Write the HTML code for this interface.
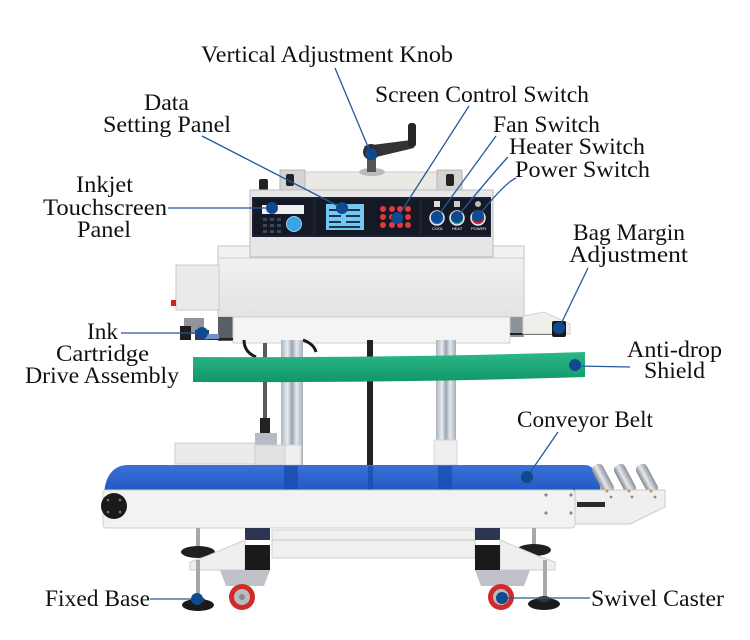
<!DOCTYPE html>
<html>
<head>
<meta charset="utf-8">
<style>
  html,body{margin:0;padding:0;background:#fff;}
  svg{display:block;}
  .lb{font-family:"Liberation Serif",serif;font-size:23px;fill:#111;}
  .tiny{font-family:"Liberation Sans",sans-serif;font-size:4px;fill:#fff;}
</style>
</head>
<body>
<svg width="750" height="640" viewBox="0 0 750 640" xmlns="http://www.w3.org/2000/svg">
<defs>
  <linearGradient id="green" x1="0" y1="0" x2="0" y2="1">
    <stop offset="0" stop-color="#2cb886"/>
    <stop offset="1" stop-color="#10966a"/>
  </linearGradient>
  <linearGradient id="blue" x1="0" y1="0" x2="0" y2="1">
    <stop offset="0" stop-color="#3a72d8"/>
    <stop offset="1" stop-color="#1f55c0"/>
  </linearGradient>
  <linearGradient id="body" x1="0" y1="0" x2="0" y2="1">
    <stop offset="0" stop-color="#f3f3f3"/>
    <stop offset="1" stop-color="#e3e3e3"/>
  </linearGradient>
  <linearGradient id="alu" x1="0" y1="0" x2="1" y2="0">
    <stop offset="0" stop-color="#aab3bd"/>
    <stop offset="0.3" stop-color="#e8edf2"/>
    <stop offset="0.5" stop-color="#9aa4ae"/>
    <stop offset="0.7" stop-color="#e4e9ee"/>
    <stop offset="1" stop-color="#a5aeb8"/>
  </linearGradient>
  <linearGradient id="roll" x1="0" y1="0" x2="1" y2="0">
    <stop offset="0" stop-color="#7d848b"/>
    <stop offset="0.45" stop-color="#e6e9ec"/>
    <stop offset="1" stop-color="#8a9097"/>
  </linearGradient>
</defs>

<rect width="750" height="640" fill="#fff"/>

<!-- ===== TOP ASSEMBLY ===== -->
<rect x="280" y="172" width="182" height="20" fill="#ebe9e3" stroke="#c9c9c9" stroke-width="1"/>
<rect x="280" y="170" width="25" height="22" fill="#d4d4d4" stroke="#aaa" stroke-width="0.8"/>
<rect x="286" y="174" width="8" height="12" rx="2" fill="#222"/>
<rect x="437" y="170" width="25" height="22" fill="#d4d4d4" stroke="#aaa" stroke-width="0.8"/>
<rect x="446" y="174" width="8" height="12" rx="2" fill="#222"/>
<!-- crank -->
<ellipse cx="372" cy="172" rx="13" ry="4" fill="#b9bbbd"/>
<rect x="367" y="156" width="9" height="16" fill="#555"/>
<polygon points="364,146 411,140 414,148 372,158" fill="#333"/>
<rect x="408" y="123" width="8" height="24" rx="3" fill="#262626"/>
<circle cx="371" cy="152" r="8" fill="#2e2e2e"/>
<!-- small knob -->
<rect x="259" y="179" width="9" height="11" rx="2" fill="#222"/>

<!-- ===== HEATER BODY ===== -->
<rect x="218" y="246" width="306" height="71" fill="url(#body)" stroke="#c6c6c6"/>
<line x1="218" y1="258" x2="524" y2="258" stroke="#d0d0d0"/>
<!-- left box -->
<rect x="176" y="265" width="43" height="45" fill="#ebebeb" stroke="#c8c8c8"/>
<rect x="171" y="300" width="5" height="6" fill="#d62020"/>
<!-- lower body -->
<rect x="218" y="317" width="15" height="24" fill="#5a5f66"/>
<rect x="510" y="317" width="14" height="20" fill="#8d939a"/>
<rect x="233" y="317" width="277" height="26" fill="#f4f4f4" stroke="#cfcfcf"/>
<line x1="205" y1="339" x2="233" y2="339" stroke="#222" stroke-width="2"/>
<line x1="510" y1="334" x2="560" y2="334" stroke="#222" stroke-width="2"/>
<!-- left cartridge assembly -->
<rect x="184" y="318" width="20" height="16" fill="#8e959e"/>
<rect x="180" y="326" width="11" height="14" fill="#1e1e1e"/>
<rect x="195" y="330" width="14" height="10" fill="#3a3f46"/>
<rect x="205" y="334" width="14" height="5" fill="#6c93c4"/>
<!-- right bag margin -->
<polygon points="523,316 544,312 570,324 570,334 523,334" fill="#f1efea" stroke="#d2d2d2"/>
<rect x="552" y="321" width="14" height="16" rx="2" fill="#1b1b1b"/>

<!-- ===== CONTROL BOX ===== -->
<rect x="250" y="190" width="243" height="67" fill="#e6e6e6" stroke="#bcbcbc"/>
<rect x="252" y="197" width="239" height="40" fill="#1b2130"/>
<!-- left panel -->
<rect x="254" y="199" width="59" height="36" fill="#141925"/>
<rect x="262" y="205" width="42" height="9" fill="#f0f0f0"/>
<g fill="#3f4757">
  <rect x="263" y="218" width="4" height="3"/><rect x="270" y="218" width="4" height="3"/><rect x="277" y="218" width="4" height="3"/>
  <rect x="263" y="224" width="4" height="3"/><rect x="270" y="224" width="4" height="3"/><rect x="277" y="224" width="4" height="3"/>
  <rect x="263" y="230" width="4" height="3"/><rect x="270" y="230" width="4" height="3"/><rect x="277" y="230" width="4" height="3"/>
</g>
<circle cx="294" cy="224" r="7.5" fill="#3aa4e6" stroke="#8fd0f5" stroke-width="1"/>
<!-- middle panel -->
<rect x="316" y="199" width="103" height="36" fill="#141925"/>
<rect x="326" y="204" width="38" height="26" fill="#74c8f0"/>
<g fill="#1a3550">
  <rect x="329" y="209" width="12" height="2"/><rect x="346" y="209" width="14" height="2"/>
  <rect x="329" y="215" width="12" height="2"/><rect x="346" y="215" width="14" height="2"/>
  <rect x="329" y="221" width="12" height="2"/><rect x="346" y="221" width="14" height="2"/>
  <rect x="329" y="226" width="31" height="2"/>
</g>
<g fill="#e23a3a">
  <circle cx="383" cy="209" r="3"/><circle cx="392" cy="209" r="3"/><circle cx="400" cy="209" r="3"/><circle cx="408" cy="209" r="3"/>
  <circle cx="383" cy="217" r="3"/><circle cx="392" cy="217" r="3"/><circle cx="400" cy="217" r="3"/><circle cx="408" cy="217" r="3"/>
  <circle cx="383" cy="225" r="3"/><circle cx="392" cy="225" r="3"/><circle cx="400" cy="225" r="3"/><circle cx="408" cy="225" r="3"/>
</g>
<!-- right panel -->
<rect x="422" y="199" width="68" height="36" fill="#141925"/>
<rect x="434" y="201" width="6" height="6" fill="#ddd"/>
<rect x="454" y="201" width="6" height="6" fill="#ccc"/>
<circle cx="478" cy="204" r="3" fill="#bbb"/>
<circle cx="437" cy="218" r="7" fill="#1e6fd2" stroke="#e8e8e8" stroke-width="1.5"/>
<circle cx="457" cy="218" r="7" fill="#1fb47a" stroke="#e8e8e8" stroke-width="1.5"/>
<circle cx="478" cy="218" r="7" fill="#d81f2a" stroke="#e8e8e8" stroke-width="1.5"/>
<text class="tiny" x="432" y="230">COOL</text>
<text class="tiny" x="452" y="230">HEAT</text>
<text class="tiny" x="471" y="230">POWER</text>

<!-- ===== COLUMNS ===== -->
<path d="M244,340 Q244,352 256,357" fill="none" stroke="#1a1a1a" stroke-width="3"/>
<path d="M303,340 Q314,344 316,352" fill="none" stroke="#1a1a1a" stroke-width="3"/>
<rect x="281" y="340" width="22" height="125" fill="url(#alu)"/>
<rect x="436" y="340" width="20" height="125" fill="url(#alu)"/>
<rect x="279" y="445" width="22" height="20" fill="#efefef" stroke="#d4d4d4"/>
<rect x="434" y="440" width="23" height="25" fill="#efefef" stroke="#d4d4d4"/>
<rect x="367" y="340" width="6" height="125" fill="#222"/>
<!-- printer rod -->
<rect x="263" y="343" width="4" height="76" fill="#5a5a5a"/>
<rect x="260" y="418" width="10" height="16" fill="#222"/>
<rect x="255" y="433" width="22" height="12" fill="#b5bcc3"/>
<!-- printer platform -->
<rect x="175" y="443" width="80" height="21" fill="#ebebeb" stroke="#cdcdcd"/>
<rect x="255" y="445" width="30" height="20" fill="#e2e2e2" stroke="#cdcdcd"/>

<!-- ===== GREEN SHIELD ===== -->
<path d="M193,357 Q400,358 585,352 L585,377 Q400,383 193,382 Z" fill="url(#green)"/>

<!-- ===== CONVEYOR ===== -->
<path d="M104,494 Q106,467 126,465 L586,465 Q594,466 598,478 L601,491 L104,492 Z" fill="url(#blue)"/>
<g fill="#1c4db0" opacity="0.8">
  <rect x="284" y="466" width="14" height="24"/>
  <rect x="438" y="466" width="14" height="24"/>
  <rect x="368" y="466" width="5" height="24"/>
</g>
<!-- rollers -->
<g>
  <rect x="597" y="463" width="12" height="32" rx="5" fill="url(#roll)" transform="rotate(-28 603 479)"/>
  <rect x="619" y="463" width="12" height="32" rx="5" fill="url(#roll)" transform="rotate(-28 625 479)"/>
  <rect x="641" y="463" width="12" height="32" rx="5" fill="url(#roll)" transform="rotate(-28 647 479)"/>
</g>
<!-- frame -->
<rect x="103" y="490" width="472" height="38" rx="3" fill="#f2f2f2" stroke="#cfcfcf"/>
<polygon points="575,490 665,490 665,507 630,524 575,524" fill="#efefef" stroke="#cbcbcb"/>
<rect x="577" y="502" width="28" height="5" fill="#2a2a2a"/>
<g fill="#e08a3a">
  <circle cx="607" cy="491" r="1.5"/><circle cx="629" cy="491" r="1.5"/><circle cx="651" cy="491" r="1.5"/>
</g>
<g fill="#8a8a8a">
  <circle cx="546" cy="495" r="1.6"/><circle cx="571" cy="495" r="1.6"/>
  <circle cx="546" cy="513" r="1.6"/><circle cx="571" cy="513" r="1.6"/>
  <circle cx="611" cy="497" r="1.4"/><circle cx="632" cy="497" r="1.4"/><circle cx="655" cy="497" r="1.4"/>
</g>
<circle cx="114" cy="506" r="13" fill="#1a1a1a"/>
<g fill="#777"><circle cx="108" cy="500" r="1.3"/><circle cx="120" cy="500" r="1.3"/><circle cx="108" cy="512" r="1.3"/><circle cx="120" cy="512" r="1.3"/></g>

<!-- ===== UNDER STRUCTURE ===== -->
<!-- back feet -->
<rect x="196" y="528" width="4" height="22" fill="#a8a8a8"/>
<ellipse cx="198" cy="552" rx="17" ry="6" fill="#1f1f1f"/>
<rect x="532" y="528" width="4" height="20" fill="#a8a8a8"/>
<ellipse cx="534" cy="550" rx="17" ry="6" fill="#1f1f1f"/>
<!-- central bar -->
<rect x="272" y="530" width="203" height="28" fill="#f0f0f0" stroke="#d2d2d2"/>
<line x1="272" y1="540" x2="475" y2="540" stroke="#c6c6c6"/>
<rect x="245" y="528" width="25" height="12" fill="#2c3652"/>
<rect x="475" y="528" width="25" height="12" fill="#2c3652"/>
<!-- braces -->
<polygon points="190,562 207,556 245,540 245,570 190,570" fill="#efefef" stroke="#cfcfcf"/>
<polygon points="500,540 538,556 555,562 555,570 500,570" fill="#efefef" stroke="#cfcfcf"/>
<rect x="245" y="545" width="25" height="25" fill="#1a1a1a"/>
<rect x="475" y="545" width="25" height="25" fill="#1a1a1a"/>
<!-- caster brackets -->
<polygon points="220,570 270,570 264,586 226,586" fill="#bfc3c7"/>
<polygon points="475,570 530,570 524,586 481,586" fill="#bfc3c7"/>
<!-- wheels -->
<circle cx="242" cy="597" r="13" fill="#d22a2a"/>
<circle cx="242" cy="597" r="8" fill="#b9bdc1"/>
<circle cx="242" cy="597" r="3" fill="#858a8f"/>
<circle cx="501" cy="597" r="13" fill="#d22a2a"/>
<circle cx="501" cy="597" r="8" fill="#b9bdc1"/>
<circle cx="501" cy="597" r="3" fill="#858a8f"/>
<!-- front feet -->
<rect x="196" y="560" width="4" height="40" fill="#a8a8a8"/>
<ellipse cx="198" cy="605" rx="16" ry="6" fill="#1a1a1a"/>
<ellipse cx="198" cy="600" rx="7" ry="3" fill="#333"/>
<rect x="543" y="560" width="4" height="40" fill="#a8a8a8"/>
<ellipse cx="544" cy="604" rx="16" ry="6" fill="#1a1a1a"/>
<ellipse cx="544" cy="599" rx="7" ry="3" fill="#333"/>

<!-- ===== CONNECTORS ===== -->
<g stroke="#25599a" stroke-width="1.3" fill="none">
  <line x1="335" y1="68" x2="371" y2="154"/>
  <line x1="469" y1="106" x2="397" y2="218"/>
  <line x1="202" y1="136" x2="342" y2="208"/>
  <line x1="496" y1="136" x2="437" y2="217"/>
  <path d="M508,157 Q494,172 457,217"/>
  <path d="M516,178 Q506,182 478,216"/>
  <line x1="168" y1="208" x2="272" y2="208"/>
  <line x1="121" y1="333" x2="202" y2="333"/>
  <line x1="588" y1="268" x2="559" y2="328"/>
  <line x1="575" y1="366" x2="630" y2="367"/>
  <line x1="558" y1="432" x2="527" y2="477"/>
  <line x1="150" y1="599" x2="197" y2="599"/>
  <line x1="502" y1="598" x2="590" y2="598"/>
</g>
<g fill="#0f4a8f">
  <circle cx="371" cy="154" r="6"/>
  <circle cx="397" cy="218" r="6"/>
  <circle cx="342" cy="208" r="6"/>
  <circle cx="437" cy="217" r="6"/>
  <circle cx="457" cy="217" r="6"/>
  <circle cx="478" cy="216" r="6"/>
  <circle cx="272" cy="208" r="6"/>
  <circle cx="202" cy="333" r="6"/>
  <circle cx="559" cy="328" r="6"/>
  <circle cx="575" cy="365" r="6"/>
  <circle cx="527" cy="477" r="6"/>
  <circle cx="197" cy="599" r="6"/>
  <circle cx="502" cy="598" r="6"/>
</g>

<!-- ===== LABELS ===== -->
<g class="lb">
  <text x="201" y="62" textLength="252" lengthAdjust="spacingAndGlyphs">Vertical Adjustment Knob</text>
  <text x="375" y="102" textLength="214" lengthAdjust="spacingAndGlyphs">Screen Control Switch</text>
  <text x="144" y="110" textLength="45" lengthAdjust="spacingAndGlyphs">Data</text>
  <text x="103" y="132" textLength="128" lengthAdjust="spacingAndGlyphs">Setting Panel</text>
  <text x="493" y="132" textLength="107" lengthAdjust="spacingAndGlyphs">Fan Switch</text>
  <text x="509" y="154" textLength="136" lengthAdjust="spacingAndGlyphs">Heater Switch</text>
  <text x="515" y="177" textLength="135" lengthAdjust="spacingAndGlyphs">Power Switch</text>
  <text x="76" y="192" textLength="57" lengthAdjust="spacingAndGlyphs">Inkjet</text>
  <text x="43" y="215" textLength="124" lengthAdjust="spacingAndGlyphs">Touchscreen</text>
  <text x="77" y="237" textLength="54" lengthAdjust="spacingAndGlyphs">Panel</text>
  <text x="573" y="240" textLength="112" lengthAdjust="spacingAndGlyphs">Bag Margin</text>
  <text x="569" y="262" textLength="119" lengthAdjust="spacingAndGlyphs">Adjustment</text>
  <text x="87" y="339" textLength="31" lengthAdjust="spacingAndGlyphs">Ink</text>
  <text x="56" y="361" textLength="93" lengthAdjust="spacingAndGlyphs">Cartridge</text>
  <text x="25" y="383" textLength="154" lengthAdjust="spacingAndGlyphs">Drive Assembly</text>
  <text x="627" y="357" textLength="95" lengthAdjust="spacingAndGlyphs">Anti-drop</text>
  <text x="644" y="378" textLength="61" lengthAdjust="spacingAndGlyphs">Shield</text>
  <text x="517" y="427" textLength="136" lengthAdjust="spacingAndGlyphs">Conveyor Belt</text>
  <text x="45" y="606" textLength="105" lengthAdjust="spacingAndGlyphs">Fixed Base</text>
  <text x="591" y="606" textLength="133" lengthAdjust="spacingAndGlyphs">Swivel Caster</text>
</g>
</svg>
</body>
</html>
